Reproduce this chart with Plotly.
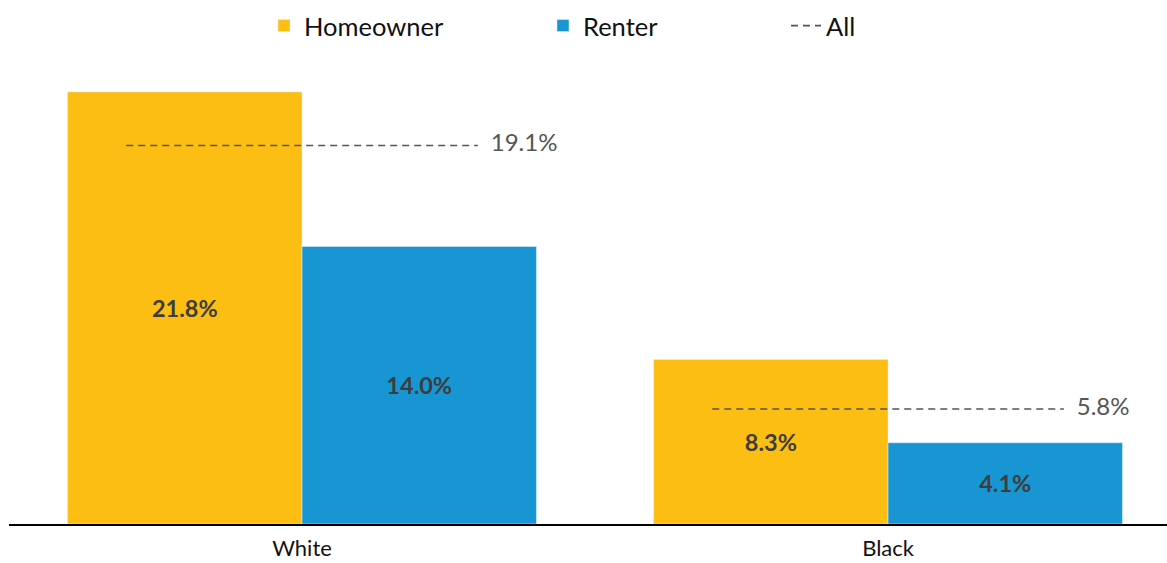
import plotly.graph_objects as go

categories = ["White", "Black"]
homeowner = [21.8, 8.3]
renter = [14.0, 4.1]
all_values = [19.1, 5.8]

FONT = "Lato"
W, H = 1167, 563
idx = list(range(len(categories)))

fig = go.Figure()
fig.add_trace(go.Bar(
    x=idx, y=homeowner, name="Homeowner", marker_color="#FDBE14",
    texttemplate="<b>%{y:.1f}%</b>", textposition="inside", insidetextanchor="middle",
    textangle=0, textfont=dict(family=FONT, size=23.5, color="#3d3d3d"),
    hoverinfo="skip", legend="legend",
))
fig.add_trace(go.Bar(
    x=idx, y=renter, name="Renter", marker_color="#1896D3",
    texttemplate="<b>%{y:.1f}%</b>", textposition="inside", insidetextanchor="middle",
    textangle=0, textfont=dict(family=FONT, size=23.5, color="#3d3d3d"),
    hoverinfo="skip", legend="legend2",
))

lx, ly = [], []
for i, v in zip(idx, all_values):
    lx += [i - 0.3, i + 0.3, None]
    ly += [v, v, None]
fig.add_trace(go.Scatter(
    x=lx, y=ly, mode="lines", name="All",
    line=dict(color="#555555", width=1.6, dash="7px,5px"),
    hoverinfo="skip", legend="legend3",
))
fig.add_trace(go.Scatter(
    x=[i + 0.322 for i in idx], y=all_values, mode="text",
    text=[f"{v:.1f}%" for v in all_values], textposition="middle right",
    textfont=dict(family=FONT, size=24, color="#555555"),
    showlegend=False, hoverinfo="skip",
))

legend_font = dict(family=FONT, size=25.5, color="#111111")
def leg(px):
    return dict(
        x=px / W, xref="container", xanchor="left",
        y=1 - 26 / H, yref="container", yanchor="middle",
        orientation="h", font=legend_font, bgcolor="rgba(0,0,0,0)",
    )

fig.update_layout(
    width=W, height=H,
    margin=dict(l=9, r=0, t=60, b=39, autoexpand=False),
    paper_bgcolor="white", plot_bgcolor="white",
    barmode="group", bargap=0.2, bargroupgap=0,
    font=dict(family=FONT, size=21, color="#222222"),
    showlegend=True,
    legend=leg(264),
    legend2=leg(543),
    legend3=leg(786),
    xaxis=dict(
        tickvals=idx, ticktext=categories, range=[-0.5, 1.476],
        showgrid=False, zeroline=False, showline=True, linecolor="#000000",
        linewidth=2, ticks="", ticklabelstandoff=4, automargin=False,
        tickfont=dict(family=FONT, size=22, color="#111111"),
    ),
    yaxis=dict(
        range=[0, 23.41], visible=False, showgrid=False, zeroline=False,
        automargin=False,
    ),
)

fig.write_html("out.html", config={"displayModeBar": False},
               post_script="document.body.style.margin='0';")
